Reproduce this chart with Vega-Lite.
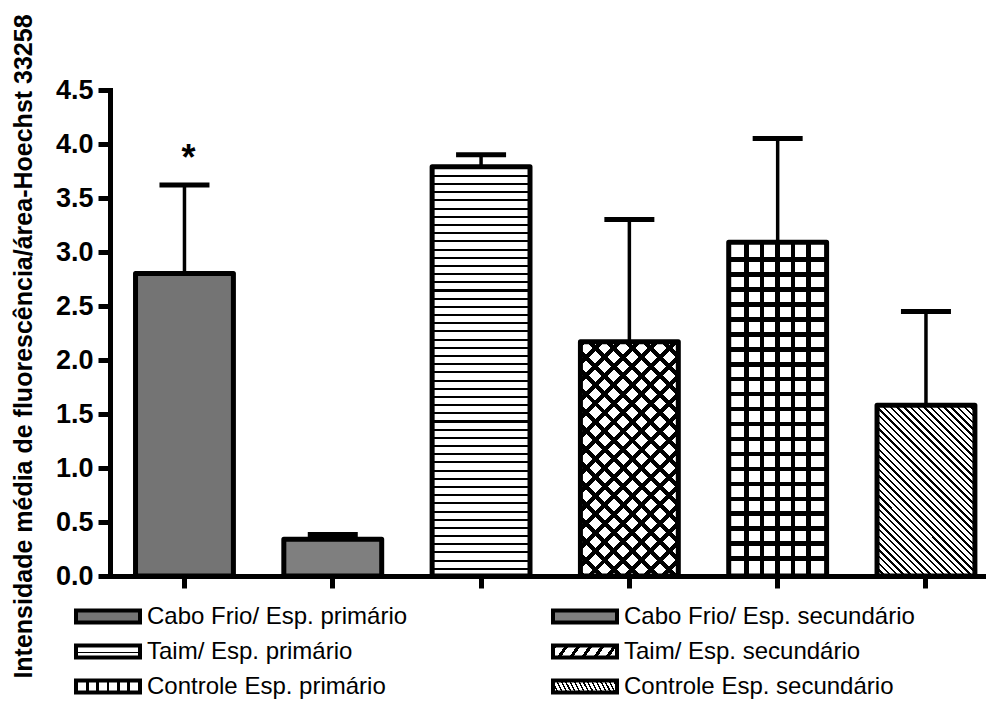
{
"$schema": "https://vega.github.io/schema/vega-lite/v6.json",
"width": 876,
"height": 486,
"autosize": {"type": "none"},
"padding": {"left": 110, "top": 90, "right": 0, "bottom": 125},
"background": "white",
"config": {"view": {"stroke": null}, "font": "Liberation Sans"},
"params": [
{"name": "g3", "value": {"gradient": "linear", "x1": 0, "y1": 0, "x2": 0, "y2": 1, "stops": [
{"offset":0,"color":"#000"},{"offset":0.005,"color":"#000"},{"offset":0.005,"color":"#fff"},{"offset":0.02,"color":"#fff"},
{"offset":0.02,"color":"#000"},{"offset":0.025,"color":"#000"},{"offset":0.025,"color":"#fff"},{"offset":0.04,"color":"#fff"},
{"offset":0.04,"color":"#000"},{"offset":0.045,"color":"#000"},{"offset":0.045,"color":"#fff"},{"offset":0.06,"color":"#fff"},
{"offset":0.06,"color":"#000"},{"offset":0.065,"color":"#000"},{"offset":0.065,"color":"#fff"},{"offset":0.08,"color":"#fff"},
{"offset":0.08,"color":"#000"},{"offset":0.085,"color":"#000"},{"offset":0.085,"color":"#fff"},{"offset":0.1,"color":"#fff"},
{"offset":0.1,"color":"#000"},{"offset":0.105,"color":"#000"},{"offset":0.105,"color":"#fff"},{"offset":0.12,"color":"#fff"},
{"offset":0.12,"color":"#000"},{"offset":0.125,"color":"#000"},{"offset":0.125,"color":"#fff"},{"offset":0.14,"color":"#fff"},
{"offset":0.14,"color":"#000"},{"offset":0.145,"color":"#000"},{"offset":0.145,"color":"#fff"},{"offset":0.16,"color":"#fff"},
{"offset":0.16,"color":"#000"},{"offset":0.165,"color":"#000"},{"offset":0.165,"color":"#fff"},{"offset":0.18,"color":"#fff"},
{"offset":0.18,"color":"#000"},{"offset":0.185,"color":"#000"},{"offset":0.185,"color":"#fff"},{"offset":0.2,"color":"#fff"},
{"offset":0.2,"color":"#000"},{"offset":0.205,"color":"#000"},{"offset":0.205,"color":"#fff"},{"offset":0.22,"color":"#fff"},
{"offset":0.22,"color":"#000"},{"offset":0.225,"color":"#000"},{"offset":0.225,"color":"#fff"},{"offset":0.24,"color":"#fff"},
{"offset":0.24,"color":"#000"},{"offset":0.245,"color":"#000"},{"offset":0.245,"color":"#fff"},{"offset":0.26,"color":"#fff"},
{"offset":0.26,"color":"#000"},{"offset":0.265,"color":"#000"},{"offset":0.265,"color":"#fff"},{"offset":0.28,"color":"#fff"},
{"offset":0.28,"color":"#000"},{"offset":0.285,"color":"#000"},{"offset":0.285,"color":"#fff"},{"offset":0.3,"color":"#fff"},
{"offset":0.3,"color":"#000"},{"offset":0.305,"color":"#000"},{"offset":0.305,"color":"#fff"},{"offset":0.32,"color":"#fff"},
{"offset":0.32,"color":"#000"},{"offset":0.325,"color":"#000"},{"offset":0.325,"color":"#fff"},{"offset":0.34,"color":"#fff"},
{"offset":0.34,"color":"#000"},{"offset":0.345,"color":"#000"},{"offset":0.345,"color":"#fff"},{"offset":0.36,"color":"#fff"},
{"offset":0.36,"color":"#000"},{"offset":0.365,"color":"#000"},{"offset":0.365,"color":"#fff"},{"offset":0.38,"color":"#fff"},
{"offset":0.38,"color":"#000"},{"offset":0.385,"color":"#000"},{"offset":0.385,"color":"#fff"},{"offset":0.4,"color":"#fff"},
{"offset":0.4,"color":"#000"},{"offset":0.405,"color":"#000"},{"offset":0.405,"color":"#fff"},{"offset":0.42,"color":"#fff"},
{"offset":0.42,"color":"#000"},{"offset":0.425,"color":"#000"},{"offset":0.425,"color":"#fff"},{"offset":0.44,"color":"#fff"},
{"offset":0.44,"color":"#000"},{"offset":0.445,"color":"#000"},{"offset":0.445,"color":"#fff"},{"offset":0.46,"color":"#fff"},
{"offset":0.46,"color":"#000"},{"offset":0.465,"color":"#000"},{"offset":0.465,"color":"#fff"},{"offset":0.48,"color":"#fff"},
{"offset":0.48,"color":"#000"},{"offset":0.485,"color":"#000"},{"offset":0.485,"color":"#fff"},{"offset":0.5,"color":"#fff"},
{"offset":0.5,"color":"#000"},{"offset":0.505,"color":"#000"},{"offset":0.505,"color":"#fff"},{"offset":0.52,"color":"#fff"},
{"offset":0.52,"color":"#000"},{"offset":0.525,"color":"#000"},{"offset":0.525,"color":"#fff"},{"offset":0.54,"color":"#fff"},
{"offset":0.54,"color":"#000"},{"offset":0.545,"color":"#000"},{"offset":0.545,"color":"#fff"},{"offset":0.56,"color":"#fff"},
{"offset":0.56,"color":"#000"},{"offset":0.565,"color":"#000"},{"offset":0.565,"color":"#fff"},{"offset":0.58,"color":"#fff"},
{"offset":0.58,"color":"#000"},{"offset":0.585,"color":"#000"},{"offset":0.585,"color":"#fff"},{"offset":0.6,"color":"#fff"},
{"offset":0.6,"color":"#000"},{"offset":0.605,"color":"#000"},{"offset":0.605,"color":"#fff"},{"offset":0.62,"color":"#fff"},
{"offset":0.62,"color":"#000"},{"offset":0.625,"color":"#000"},{"offset":0.625,"color":"#fff"},{"offset":0.64,"color":"#fff"},
{"offset":0.64,"color":"#000"},{"offset":0.645,"color":"#000"},{"offset":0.645,"color":"#fff"},{"offset":0.66,"color":"#fff"},
{"offset":0.66,"color":"#000"},{"offset":0.665,"color":"#000"},{"offset":0.665,"color":"#fff"},{"offset":0.68,"color":"#fff"},
{"offset":0.68,"color":"#000"},{"offset":0.685,"color":"#000"},{"offset":0.685,"color":"#fff"},{"offset":0.7,"color":"#fff"},
{"offset":0.7,"color":"#000"},{"offset":0.705,"color":"#000"},{"offset":0.705,"color":"#fff"},{"offset":0.72,"color":"#fff"},
{"offset":0.72,"color":"#000"},{"offset":0.725,"color":"#000"},{"offset":0.725,"color":"#fff"},{"offset":0.74,"color":"#fff"},
{"offset":0.74,"color":"#000"},{"offset":0.745,"color":"#000"},{"offset":0.745,"color":"#fff"},{"offset":0.76,"color":"#fff"},
{"offset":0.76,"color":"#000"},{"offset":0.765,"color":"#000"},{"offset":0.765,"color":"#fff"},{"offset":0.78,"color":"#fff"},
{"offset":0.78,"color":"#000"},{"offset":0.785,"color":"#000"},{"offset":0.785,"color":"#fff"},{"offset":0.8,"color":"#fff"},
{"offset":0.8,"color":"#000"},{"offset":0.805,"color":"#000"},{"offset":0.805,"color":"#fff"},{"offset":0.82,"color":"#fff"},
{"offset":0.82,"color":"#000"},{"offset":0.825,"color":"#000"},{"offset":0.825,"color":"#fff"},{"offset":0.84,"color":"#fff"},
{"offset":0.84,"color":"#000"},{"offset":0.845,"color":"#000"},{"offset":0.845,"color":"#fff"},{"offset":0.86,"color":"#fff"},
{"offset":0.86,"color":"#000"},{"offset":0.865,"color":"#000"},{"offset":0.865,"color":"#fff"},{"offset":0.88,"color":"#fff"},
{"offset":0.88,"color":"#000"},{"offset":0.885,"color":"#000"},{"offset":0.885,"color":"#fff"},{"offset":0.9,"color":"#fff"},
{"offset":0.9,"color":"#000"},{"offset":0.905,"color":"#000"},{"offset":0.905,"color":"#fff"},{"offset":0.92,"color":"#fff"},
{"offset":0.92,"color":"#000"},{"offset":0.925,"color":"#000"},{"offset":0.925,"color":"#fff"},{"offset":0.94,"color":"#fff"},
{"offset":0.94,"color":"#000"},{"offset":0.945,"color":"#000"},{"offset":0.945,"color":"#fff"},{"offset":0.96,"color":"#fff"},
{"offset":0.96,"color":"#000"},{"offset":0.965,"color":"#000"},{"offset":0.965,"color":"#fff"},{"offset":0.98,"color":"#fff"},
{"offset":0.98,"color":"#000"},{"offset":0.985,"color":"#000"},{"offset":0.985,"color":"#fff"},{"offset":1,"color":"#fff"}
]}},
{"name": "g4", "value": {"gradient": "linear", "x1": 0, "y1": 0, "x2": 0.5042, "y2": 1.207, "stops": [
{"offset":0,"color":"#000"},{"offset":0.018,"color":"#000"},{"offset":0.018,"color":"#fff"},{"offset":0.0556,"color":"#fff"},
{"offset":0.0556,"color":"#000"},{"offset":0.0736,"color":"#000"},{"offset":0.0736,"color":"#fff"},{"offset":0.1111,"color":"#fff"},
{"offset":0.1111,"color":"#000"},{"offset":0.1291,"color":"#000"},{"offset":0.1291,"color":"#fff"},{"offset":0.1667,"color":"#fff"},
{"offset":0.1667,"color":"#000"},{"offset":0.1847,"color":"#000"},{"offset":0.1847,"color":"#fff"},{"offset":0.2222,"color":"#fff"},
{"offset":0.2222,"color":"#000"},{"offset":0.2402,"color":"#000"},{"offset":0.2402,"color":"#fff"},{"offset":0.2778,"color":"#fff"},
{"offset":0.2778,"color":"#000"},{"offset":0.2958,"color":"#000"},{"offset":0.2958,"color":"#fff"},{"offset":0.3333,"color":"#fff"},
{"offset":0.3333,"color":"#000"},{"offset":0.3513,"color":"#000"},{"offset":0.3513,"color":"#fff"},{"offset":0.3889,"color":"#fff"},
{"offset":0.3889,"color":"#000"},{"offset":0.4069,"color":"#000"},{"offset":0.4069,"color":"#fff"},{"offset":0.4444,"color":"#fff"},
{"offset":0.4444,"color":"#000"},{"offset":0.4624,"color":"#000"},{"offset":0.4624,"color":"#fff"},{"offset":0.5,"color":"#fff"},
{"offset":0.5,"color":"#000"},{"offset":0.518,"color":"#000"},{"offset":0.518,"color":"#fff"},{"offset":0.5556,"color":"#fff"},
{"offset":0.5556,"color":"#000"},{"offset":0.5736,"color":"#000"},{"offset":0.5736,"color":"#fff"},{"offset":0.6111,"color":"#fff"},
{"offset":0.6111,"color":"#000"},{"offset":0.6291,"color":"#000"},{"offset":0.6291,"color":"#fff"},{"offset":0.6667,"color":"#fff"},
{"offset":0.6667,"color":"#000"},{"offset":0.6847,"color":"#000"},{"offset":0.6847,"color":"#fff"},{"offset":0.7222,"color":"#fff"},
{"offset":0.7222,"color":"#000"},{"offset":0.7402,"color":"#000"},{"offset":0.7402,"color":"#fff"},{"offset":0.7778,"color":"#fff"},
{"offset":0.7778,"color":"#000"},{"offset":0.7958,"color":"#000"},{"offset":0.7958,"color":"#fff"},{"offset":0.8333,"color":"#fff"},
{"offset":0.8333,"color":"#000"},{"offset":0.8513,"color":"#000"},{"offset":0.8513,"color":"#fff"},{"offset":0.8889,"color":"#fff"},
{"offset":0.8889,"color":"#000"},{"offset":0.9069,"color":"#000"},{"offset":0.9069,"color":"#fff"},{"offset":0.9444,"color":"#fff"},
{"offset":0.9444,"color":"#000"},{"offset":0.9624,"color":"#000"},{"offset":0.9624,"color":"#fff"},{"offset":1,"color":"#fff"}
]}},
{"name": "g4b", "value": {"gradient": "linear", "x1": 0, "y1": 1, "x2": 0.5042, "y2": -0.207, "stops": [
{"offset":0,"color":"#000"},{"offset":0.018,"color":"#000"},{"offset":0.018,"color":"rgba(0,0,0,0)"},{"offset":0.0556,"color":"rgba(0,0,0,0)"},
{"offset":0.0556,"color":"#000"},{"offset":0.0736,"color":"#000"},{"offset":0.0736,"color":"rgba(0,0,0,0)"},{"offset":0.1111,"color":"rgba(0,0,0,0)"},
{"offset":0.1111,"color":"#000"},{"offset":0.1291,"color":"#000"},{"offset":0.1291,"color":"rgba(0,0,0,0)"},{"offset":0.1667,"color":"rgba(0,0,0,0)"},
{"offset":0.1667,"color":"#000"},{"offset":0.1847,"color":"#000"},{"offset":0.1847,"color":"rgba(0,0,0,0)"},{"offset":0.2222,"color":"rgba(0,0,0,0)"},
{"offset":0.2222,"color":"#000"},{"offset":0.2402,"color":"#000"},{"offset":0.2402,"color":"rgba(0,0,0,0)"},{"offset":0.2778,"color":"rgba(0,0,0,0)"},
{"offset":0.2778,"color":"#000"},{"offset":0.2958,"color":"#000"},{"offset":0.2958,"color":"rgba(0,0,0,0)"},{"offset":0.3333,"color":"rgba(0,0,0,0)"},
{"offset":0.3333,"color":"#000"},{"offset":0.3513,"color":"#000"},{"offset":0.3513,"color":"rgba(0,0,0,0)"},{"offset":0.3889,"color":"rgba(0,0,0,0)"},
{"offset":0.3889,"color":"#000"},{"offset":0.4069,"color":"#000"},{"offset":0.4069,"color":"rgba(0,0,0,0)"},{"offset":0.4444,"color":"rgba(0,0,0,0)"},
{"offset":0.4444,"color":"#000"},{"offset":0.4624,"color":"#000"},{"offset":0.4624,"color":"rgba(0,0,0,0)"},{"offset":0.5,"color":"rgba(0,0,0,0)"},
{"offset":0.5,"color":"#000"},{"offset":0.518,"color":"#000"},{"offset":0.518,"color":"rgba(0,0,0,0)"},{"offset":0.5556,"color":"rgba(0,0,0,0)"},
{"offset":0.5556,"color":"#000"},{"offset":0.5736,"color":"#000"},{"offset":0.5736,"color":"rgba(0,0,0,0)"},{"offset":0.6111,"color":"rgba(0,0,0,0)"},
{"offset":0.6111,"color":"#000"},{"offset":0.6291,"color":"#000"},{"offset":0.6291,"color":"rgba(0,0,0,0)"},{"offset":0.6667,"color":"rgba(0,0,0,0)"},
{"offset":0.6667,"color":"#000"},{"offset":0.6847,"color":"#000"},{"offset":0.6847,"color":"rgba(0,0,0,0)"},{"offset":0.7222,"color":"rgba(0,0,0,0)"},
{"offset":0.7222,"color":"#000"},{"offset":0.7402,"color":"#000"},{"offset":0.7402,"color":"rgba(0,0,0,0)"},{"offset":0.7778,"color":"rgba(0,0,0,0)"},
{"offset":0.7778,"color":"#000"},{"offset":0.7958,"color":"#000"},{"offset":0.7958,"color":"rgba(0,0,0,0)"},{"offset":0.8333,"color":"rgba(0,0,0,0)"},
{"offset":0.8333,"color":"#000"},{"offset":0.8513,"color":"#000"},{"offset":0.8513,"color":"rgba(0,0,0,0)"},{"offset":0.8889,"color":"rgba(0,0,0,0)"},
{"offset":0.8889,"color":"#000"},{"offset":0.9069,"color":"#000"},{"offset":0.9069,"color":"rgba(0,0,0,0)"},{"offset":0.9444,"color":"rgba(0,0,0,0)"},
{"offset":0.9444,"color":"#000"},{"offset":0.9624,"color":"#000"},{"offset":0.9624,"color":"rgba(0,0,0,0)"},{"offset":1,"color":"rgba(0,0,0,0)"}
]}},
{"name": "g5", "value": {"gradient": "linear", "x1": 0, "y1": 0, "x2": 1, "y2": 0, "stops": [
{"offset":0,"color":"#fff"},{"offset":0.161,"color":"#fff"},{"offset":0.161,"color":"#000"},{"offset":0.207,"color":"#000"},
{"offset":0.207,"color":"#fff"},{"offset":0.319,"color":"#fff"},{"offset":0.319,"color":"#000"},{"offset":0.365,"color":"#000"},
{"offset":0.365,"color":"#fff"},{"offset":0.477,"color":"#fff"},{"offset":0.477,"color":"#000"},{"offset":0.523,"color":"#000"},
{"offset":0.523,"color":"#fff"},{"offset":0.635,"color":"#fff"},{"offset":0.635,"color":"#000"},{"offset":0.681,"color":"#000"},
{"offset":0.681,"color":"#fff"},{"offset":0.793,"color":"#fff"},{"offset":0.793,"color":"#000"},{"offset":0.839,"color":"#000"},
{"offset":0.839,"color":"#fff"},{"offset":1,"color":"#fff"}
]}},
{"name": "g5b", "value": {"gradient": "linear", "x1": 0, "y1": 0, "x2": 0, "y2": 1, "stops": [
{"offset":0,"color":"rgba(0,0,0,0)"},
{"offset":0.0455,"color":"rgba(0,0,0,0)"},{"offset":0.0455,"color":"#000"},{"offset":0.0589,"color":"#000"},{"offset":0.0589,"color":"rgba(0,0,0,0)"},
{"offset":0.0903,"color":"rgba(0,0,0,0)"},{"offset":0.0903,"color":"#000"},{"offset":0.1037,"color":"#000"},{"offset":0.1037,"color":"rgba(0,0,0,0)"},
{"offset":0.1351,"color":"rgba(0,0,0,0)"},{"offset":0.1351,"color":"#000"},{"offset":0.1485,"color":"#000"},{"offset":0.1485,"color":"rgba(0,0,0,0)"},
{"offset":0.1798,"color":"rgba(0,0,0,0)"},{"offset":0.1798,"color":"#000"},{"offset":0.1932,"color":"#000"},{"offset":0.1932,"color":"rgba(0,0,0,0)"},
{"offset":0.2246,"color":"rgba(0,0,0,0)"},{"offset":0.2246,"color":"#000"},{"offset":0.238,"color":"#000"},{"offset":0.238,"color":"rgba(0,0,0,0)"},
{"offset":0.2694,"color":"rgba(0,0,0,0)"},{"offset":0.2694,"color":"#000"},{"offset":0.2828,"color":"#000"},{"offset":0.2828,"color":"rgba(0,0,0,0)"},
{"offset":0.3142,"color":"rgba(0,0,0,0)"},{"offset":0.3142,"color":"#000"},{"offset":0.3276,"color":"#000"},{"offset":0.3276,"color":"rgba(0,0,0,0)"},
{"offset":0.3589,"color":"rgba(0,0,0,0)"},{"offset":0.3589,"color":"#000"},{"offset":0.3723,"color":"#000"},{"offset":0.3723,"color":"rgba(0,0,0,0)"},
{"offset":0.4037,"color":"rgba(0,0,0,0)"},{"offset":0.4037,"color":"#000"},{"offset":0.4171,"color":"#000"},{"offset":0.4171,"color":"rgba(0,0,0,0)"},
{"offset":0.4485,"color":"rgba(0,0,0,0)"},{"offset":0.4485,"color":"#000"},{"offset":0.4619,"color":"#000"},{"offset":0.4619,"color":"rgba(0,0,0,0)"},
{"offset":0.4932,"color":"rgba(0,0,0,0)"},{"offset":0.4932,"color":"#000"},{"offset":0.5066,"color":"#000"},{"offset":0.5066,"color":"rgba(0,0,0,0)"},
{"offset":0.538,"color":"rgba(0,0,0,0)"},{"offset":0.538,"color":"#000"},{"offset":0.5514,"color":"#000"},{"offset":0.5514,"color":"rgba(0,0,0,0)"},
{"offset":0.5828,"color":"rgba(0,0,0,0)"},{"offset":0.5828,"color":"#000"},{"offset":0.5962,"color":"#000"},{"offset":0.5962,"color":"rgba(0,0,0,0)"},
{"offset":0.6276,"color":"rgba(0,0,0,0)"},{"offset":0.6276,"color":"#000"},{"offset":0.641,"color":"#000"},{"offset":0.641,"color":"rgba(0,0,0,0)"},
{"offset":0.6723,"color":"rgba(0,0,0,0)"},{"offset":0.6723,"color":"#000"},{"offset":0.6857,"color":"#000"},{"offset":0.6857,"color":"rgba(0,0,0,0)"},
{"offset":0.7171,"color":"rgba(0,0,0,0)"},{"offset":0.7171,"color":"#000"},{"offset":0.7305,"color":"#000"},{"offset":0.7305,"color":"rgba(0,0,0,0)"},
{"offset":0.7619,"color":"rgba(0,0,0,0)"},{"offset":0.7619,"color":"#000"},{"offset":0.7753,"color":"#000"},{"offset":0.7753,"color":"rgba(0,0,0,0)"},
{"offset":0.8066,"color":"rgba(0,0,0,0)"},{"offset":0.8066,"color":"#000"},{"offset":0.82,"color":"#000"},{"offset":0.82,"color":"rgba(0,0,0,0)"},
{"offset":0.8514,"color":"rgba(0,0,0,0)"},{"offset":0.8514,"color":"#000"},{"offset":0.8648,"color":"#000"},{"offset":0.8648,"color":"rgba(0,0,0,0)"},
{"offset":0.8962,"color":"rgba(0,0,0,0)"},{"offset":0.8962,"color":"#000"},{"offset":0.9096,"color":"#000"},{"offset":0.9096,"color":"rgba(0,0,0,0)"},
{"offset":0.9409,"color":"rgba(0,0,0,0)"},{"offset":0.9409,"color":"#000"},{"offset":0.9543,"color":"#000"},{"offset":0.9543,"color":"rgba(0,0,0,0)"},
{"offset":1,"color":"rgba(0,0,0,0)"}
]}},
{"name": "g6", "value": {"gradient": "linear", "x1": 0, "y1": 1, "x2": 0.6793, "y2": -0.184, "stops": [
{"offset":0,"color":"#000"},{"offset":0.009,"color":"#000"},{"offset":0.009,"color":"#fff"},{"offset":0.025,"color":"#fff"},
{"offset":0.025,"color":"#000"},{"offset":0.034,"color":"#000"},{"offset":0.034,"color":"#fff"},{"offset":0.05,"color":"#fff"},
{"offset":0.05,"color":"#000"},{"offset":0.059,"color":"#000"},{"offset":0.059,"color":"#fff"},{"offset":0.075,"color":"#fff"},
{"offset":0.075,"color":"#000"},{"offset":0.084,"color":"#000"},{"offset":0.084,"color":"#fff"},{"offset":0.1,"color":"#fff"},
{"offset":0.1,"color":"#000"},{"offset":0.109,"color":"#000"},{"offset":0.109,"color":"#fff"},{"offset":0.125,"color":"#fff"},
{"offset":0.125,"color":"#000"},{"offset":0.134,"color":"#000"},{"offset":0.134,"color":"#fff"},{"offset":0.15,"color":"#fff"},
{"offset":0.15,"color":"#000"},{"offset":0.159,"color":"#000"},{"offset":0.159,"color":"#fff"},{"offset":0.175,"color":"#fff"},
{"offset":0.175,"color":"#000"},{"offset":0.184,"color":"#000"},{"offset":0.184,"color":"#fff"},{"offset":0.2,"color":"#fff"},
{"offset":0.2,"color":"#000"},{"offset":0.209,"color":"#000"},{"offset":0.209,"color":"#fff"},{"offset":0.225,"color":"#fff"},
{"offset":0.225,"color":"#000"},{"offset":0.234,"color":"#000"},{"offset":0.234,"color":"#fff"},{"offset":0.25,"color":"#fff"},
{"offset":0.25,"color":"#000"},{"offset":0.259,"color":"#000"},{"offset":0.259,"color":"#fff"},{"offset":0.275,"color":"#fff"},
{"offset":0.275,"color":"#000"},{"offset":0.284,"color":"#000"},{"offset":0.284,"color":"#fff"},{"offset":0.3,"color":"#fff"},
{"offset":0.3,"color":"#000"},{"offset":0.309,"color":"#000"},{"offset":0.309,"color":"#fff"},{"offset":0.325,"color":"#fff"},
{"offset":0.325,"color":"#000"},{"offset":0.334,"color":"#000"},{"offset":0.334,"color":"#fff"},{"offset":0.35,"color":"#fff"},
{"offset":0.35,"color":"#000"},{"offset":0.359,"color":"#000"},{"offset":0.359,"color":"#fff"},{"offset":0.375,"color":"#fff"},
{"offset":0.375,"color":"#000"},{"offset":0.384,"color":"#000"},{"offset":0.384,"color":"#fff"},{"offset":0.4,"color":"#fff"},
{"offset":0.4,"color":"#000"},{"offset":0.409,"color":"#000"},{"offset":0.409,"color":"#fff"},{"offset":0.425,"color":"#fff"},
{"offset":0.425,"color":"#000"},{"offset":0.434,"color":"#000"},{"offset":0.434,"color":"#fff"},{"offset":0.45,"color":"#fff"},
{"offset":0.45,"color":"#000"},{"offset":0.459,"color":"#000"},{"offset":0.459,"color":"#fff"},{"offset":0.475,"color":"#fff"},
{"offset":0.475,"color":"#000"},{"offset":0.484,"color":"#000"},{"offset":0.484,"color":"#fff"},{"offset":0.5,"color":"#fff"},
{"offset":0.5,"color":"#000"},{"offset":0.509,"color":"#000"},{"offset":0.509,"color":"#fff"},{"offset":0.525,"color":"#fff"},
{"offset":0.525,"color":"#000"},{"offset":0.534,"color":"#000"},{"offset":0.534,"color":"#fff"},{"offset":0.55,"color":"#fff"},
{"offset":0.55,"color":"#000"},{"offset":0.559,"color":"#000"},{"offset":0.559,"color":"#fff"},{"offset":0.575,"color":"#fff"},
{"offset":0.575,"color":"#000"},{"offset":0.584,"color":"#000"},{"offset":0.584,"color":"#fff"},{"offset":0.6,"color":"#fff"},
{"offset":0.6,"color":"#000"},{"offset":0.609,"color":"#000"},{"offset":0.609,"color":"#fff"},{"offset":0.625,"color":"#fff"},
{"offset":0.625,"color":"#000"},{"offset":0.634,"color":"#000"},{"offset":0.634,"color":"#fff"},{"offset":0.65,"color":"#fff"},
{"offset":0.65,"color":"#000"},{"offset":0.659,"color":"#000"},{"offset":0.659,"color":"#fff"},{"offset":0.675,"color":"#fff"},
{"offset":0.675,"color":"#000"},{"offset":0.684,"color":"#000"},{"offset":0.684,"color":"#fff"},{"offset":0.7,"color":"#fff"},
{"offset":0.7,"color":"#000"},{"offset":0.709,"color":"#000"},{"offset":0.709,"color":"#fff"},{"offset":0.725,"color":"#fff"},
{"offset":0.725,"color":"#000"},{"offset":0.734,"color":"#000"},{"offset":0.734,"color":"#fff"},{"offset":0.75,"color":"#fff"},
{"offset":0.75,"color":"#000"},{"offset":0.759,"color":"#000"},{"offset":0.759,"color":"#fff"},{"offset":0.775,"color":"#fff"},
{"offset":0.775,"color":"#000"},{"offset":0.784,"color":"#000"},{"offset":0.784,"color":"#fff"},{"offset":0.8,"color":"#fff"},
{"offset":0.8,"color":"#000"},{"offset":0.809,"color":"#000"},{"offset":0.809,"color":"#fff"},{"offset":0.825,"color":"#fff"},
{"offset":0.825,"color":"#000"},{"offset":0.834,"color":"#000"},{"offset":0.834,"color":"#fff"},{"offset":0.85,"color":"#fff"},
{"offset":0.85,"color":"#000"},{"offset":0.859,"color":"#000"},{"offset":0.859,"color":"#fff"},{"offset":0.875,"color":"#fff"},
{"offset":0.875,"color":"#000"},{"offset":0.884,"color":"#000"},{"offset":0.884,"color":"#fff"},{"offset":0.9,"color":"#fff"},
{"offset":0.9,"color":"#000"},{"offset":0.909,"color":"#000"},{"offset":0.909,"color":"#fff"},{"offset":0.925,"color":"#fff"},
{"offset":0.925,"color":"#000"},{"offset":0.934,"color":"#000"},{"offset":0.934,"color":"#fff"},{"offset":0.95,"color":"#fff"},
{"offset":0.95,"color":"#000"},{"offset":0.959,"color":"#000"},{"offset":0.959,"color":"#fff"},{"offset":0.975,"color":"#fff"},
{"offset":0.975,"color":"#000"},{"offset":0.984,"color":"#000"},{"offset":0.984,"color":"#fff"},{"offset":1,"color":"#fff"}
]}}
],
"data": {"values": [
{"grupo": "Cabo Frio/ Esp. primário", "media": 2.80, "sup": 3.62, "sig": "*"},
{"grupo": "Cabo Frio/ Esp. secundário", "media": 0.34, "sup": 0.385, "sig": ""},
{"grupo": "Taim/ Esp. primário", "media": 3.79, "sup": 3.90, "sig": ""},
{"grupo": "Taim/ Esp. secundário", "media": 2.17, "sup": 3.30, "sig": ""},
{"grupo": "Controle Esp. primário", "media": 3.09, "sup": 4.05, "sig": ""},
{"grupo": "Controle Esp. secundário", "media": 1.58, "sup": 2.45, "sig": ""}
]},
"encoding": {
"x": {"field": "grupo", "type": "nominal",
 "scale": {"domain": ["Cabo Frio/ Esp. primário", "Cabo Frio/ Esp. secundário", "Taim/ Esp. primário", "Taim/ Esp. secundário", "Controle Esp. primário", "Controle Esp. secundário"], "paddingInner": 0.34, "paddingOuter": 0.1235, "align": 0.697},
 "axis": {"title": null, "labels": false, "grid": false, "domainColor": "black", "domainWidth": 5, "domainCap": "square", "tickColor": "black", "tickWidth": 5, "tickSize": 12}},
"y": {"field": "media", "type": "quantitative",
 "scale": {"domain": [0, 4.5], "nice": false, "zero": true},
 "axis": {"title": "Intensidade média de fluorescência/área-Hoechst 33258", "titleFont": "Liberation Sans", "titleFontSize": 25, "titleFontWeight": "bold", "titleColor": "black", "titleX": -87, "titleY": 256, "titleAngle": -90, "titleAlign": "center", "titleBaseline": "middle", "titleLimit": 1000,
  "values": [0, 0.5, 1, 1.5, 2, 2.5, 3, 3.5, 4, 4.5], "format": ".1f", "labelFont": "Liberation Sans", "labelFontSize": 27, "labelFontWeight": "bold", "labelColor": "black", "labelPadding": 5,
  "grid": false, "domainColor": "black", "domainWidth": 5, "domainCap": "square", "tickColor": "black", "tickWidth": 5, "tickSize": 12}}
},
"layer": [
{"mark": {"type": "bar", "stroke": "black", "strokeWidth": 5, "strokeJoin": "round"},
 "encoding": {"fill": {"field": "grupo", "type": "nominal",
  "scale": {"domain": ["Cabo Frio/ Esp. primário", "Cabo Frio/ Esp. secundário", "Taim/ Esp. primário", "Taim/ Esp. secundário", "Controle Esp. primário", "Controle Esp. secundário"],
   "range": ["#747474", "#7f7f7f", {"expr": "g3"}, {"expr": "g4"}, {"expr": "g5"}, {"expr": "g6"}]},
  "legend": {"title": null, "orient": "none", "legendX": -36, "legendY": 509, "direction": "horizontal", "columns": 2, "columnPadding": 143, "rowPadding": 0, "clipHeight": 35, "padding": 0,
   "symbolType": "M-1,-0.1875H1V0.1875H-1Z", "symbolSize": 4096, "symbolStrokeColor": "black", "symbolStrokeWidth": 4, "symbolOpacity": 1,
   "labelFont": "Liberation Sans", "labelFontSize": 24, "labelColor": "black", "labelOffset": 5, "labelLimit": 500}}}},
{"transform": [{"filter": "datum.grupo === 'Taim/ Esp. secundário'"}],
 "mark": {"type": "bar", "fill": {"expr": "g4b"}}},
{"transform": [{"filter": "datum.grupo === 'Controle Esp. primário'"}],
 "mark": {"type": "bar", "fill": {"expr": "g5b"}}},
{"mark": {"type": "rule", "color": "black", "strokeWidth": 3.5},
 "encoding": {"y2": {"field": "sup"}}},
{"mark": {"type": "tick", "color": "black", "thickness": 5, "size": 50, "opacity": 1},
 "encoding": {"y": {"field": "sup", "type": "quantitative"}}},
{"mark": {"type": "text", "color": "black", "fontSize": 36, "fontWeight": "bold", "dy": -15, "dx": 4, "baseline": "alphabetic", "align": "center"},
 "encoding": {"y": {"field": "sup", "type": "quantitative"}, "text": {"field": "sig"}}}
]
}
